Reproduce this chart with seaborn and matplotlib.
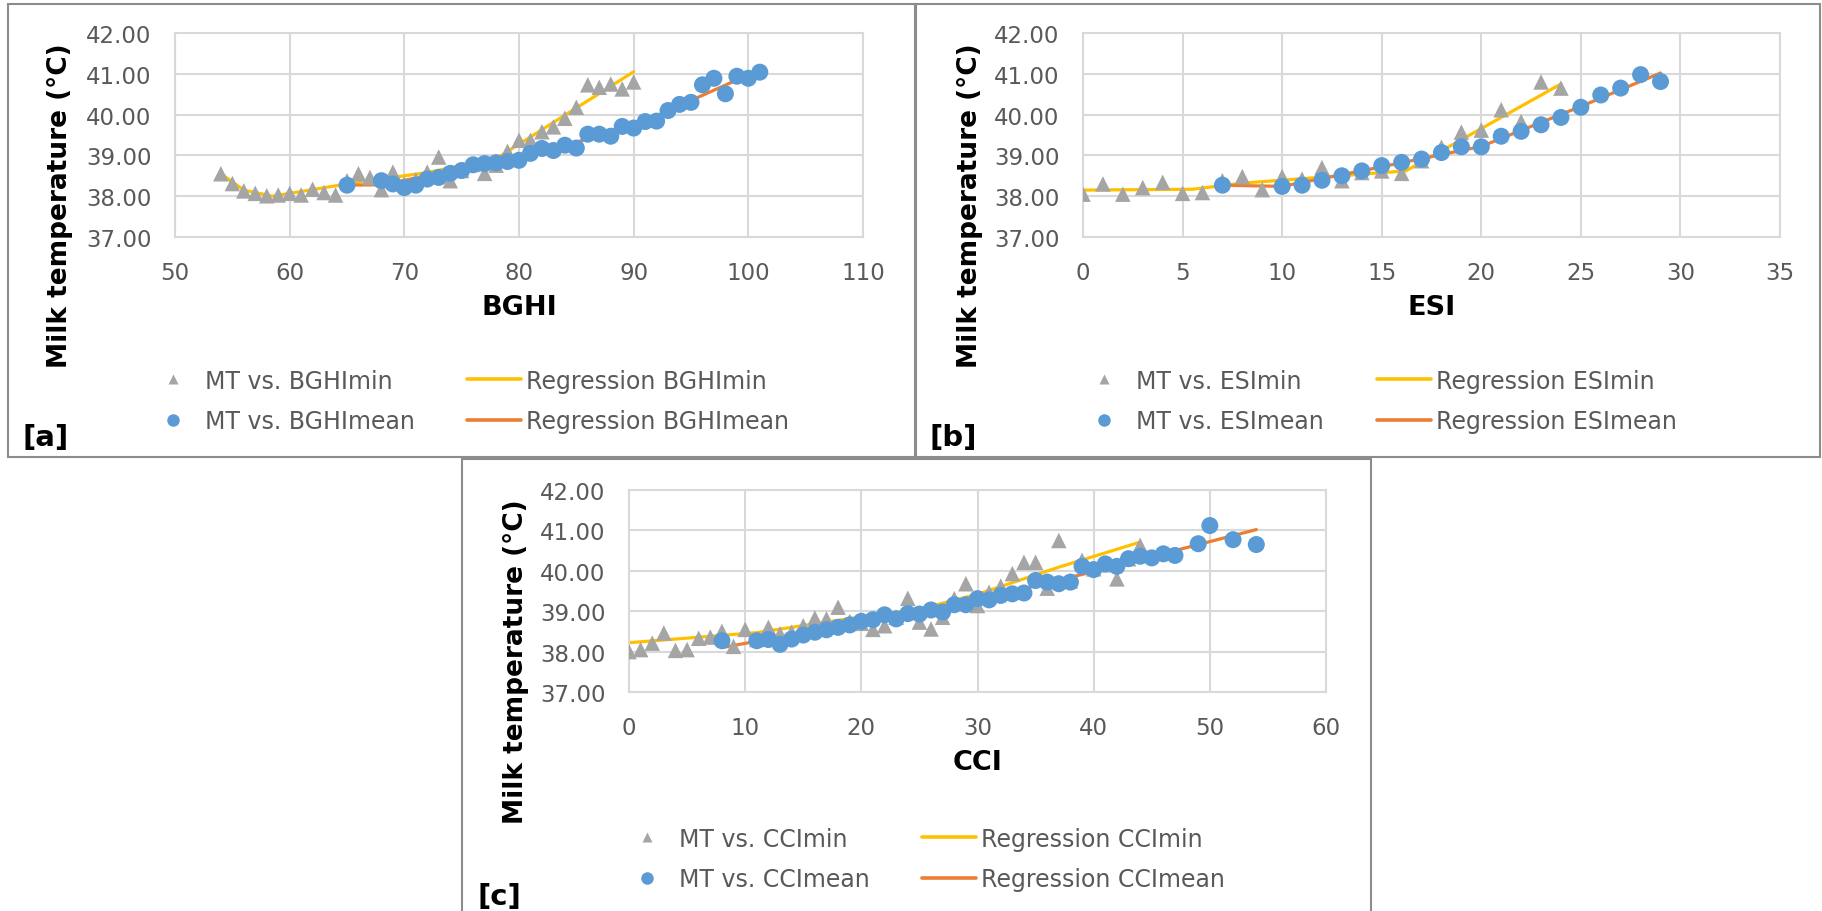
import matplotlib
matplotlib.use("Agg")
import matplotlib.pyplot as plt
from matplotlib.lines import Line2D
from matplotlib.patches import Rectangle
import seaborn as sns
import pandas as pd

# ---- data ----
# [a] BGHI
bghi_min_x = [54, 55, 56, 57, 58, 59, 60, 61, 62, 63, 64, 65, 66, 67, 68, 69, 70, 71, 72,
              73, 74, 75, 76, 77, 78, 79, 80, 81, 82, 83, 84, 85, 86, 87, 88, 89, 90]
bghi_min_y = [38.55, 38.31, 38.13, 38.07, 38.01, 38.03, 38.07, 38.03, 38.17, 38.09, 38.03,
              38.38, 38.55, 38.46, 38.16, 38.59, 38.30, 38.40, 38.59, 38.96, 38.38, 38.63,
              38.78, 38.56, 38.76, 39.10, 39.37, 39.37, 39.58, 39.70, 39.91, 40.18, 40.73,
              40.67, 40.75, 40.63, 40.80]
bghi_mean_x = [65, 68, 69, 70, 71, 72, 73, 74, 75, 76, 77, 78, 79, 80, 81, 82, 83, 84, 85,
               86, 87, 88, 89, 90, 91, 92, 93, 94, 95, 96, 97, 98, 99, 100, 101]
bghi_mean_y = [38.27, 38.38, 38.30, 38.21, 38.27, 38.42, 38.46, 38.56, 38.63, 38.77, 38.80,
               38.82, 38.85, 38.88, 39.05, 39.17, 39.12, 39.25, 39.18, 39.52, 39.52, 39.47,
               39.71, 39.67, 39.83, 39.84, 40.10, 40.25, 40.30, 40.73, 40.89, 40.51, 40.94,
               40.89, 41.04]
bghi_reg_min_x = [54, 56, 58.5, 65, 72, 78, 90]
bghi_reg_min_y = [38.55, 38.15, 38.00, 38.30, 38.58, 38.92, 41.05]
bghi_reg_mean_x = [65, 68, 76, 85, 92, 101]
bghi_reg_mean_y = [38.27, 38.28, 38.72, 39.32, 39.97, 41.10]

# [b] ESI
esi_min_x = [0, 1, 2, 3, 4, 5, 6, 7, 8, 9, 10, 11, 12, 13, 14, 15, 16, 17, 18, 19, 20,
             21, 22, 23, 24]
esi_min_y = [38.05, 38.30, 38.05, 38.21, 38.34, 38.07, 38.09, 38.38, 38.48, 38.16, 38.48,
             38.42, 38.70, 38.38, 38.58, 38.62, 38.56, 38.87, 39.20, 39.57, 39.62, 40.12,
             39.83, 40.80, 40.65]
esi_mean_x = [7, 10, 11, 12, 13, 14, 15, 16, 17, 18, 19, 20, 21, 22, 23, 24, 25, 26, 27,
              28, 29]
esi_mean_y = [38.27, 38.24, 38.27, 38.39, 38.50, 38.62, 38.75, 38.83, 38.91, 39.07, 39.21,
              39.21, 39.47, 39.59, 39.75, 39.93, 40.18, 40.48, 40.65, 40.98, 40.81]
esi_reg_min_x = [0, 5.5, 8, 16.2, 24]
esi_reg_min_y = [38.15, 38.17, 38.32, 38.62, 40.75]
esi_reg_mean_x = [7, 10, 15, 20, 25, 29]
esi_reg_mean_y = [38.27, 38.24, 38.72, 39.22, 40.20, 41.02]

# [c] CCI
cci_min_x = [0, 1, 2, 3, 4, 5, 6, 7, 8, 9, 10, 11, 12, 13, 14, 15, 16, 17, 18, 19, 20, 21,
             22, 23, 24, 25, 26, 27, 28, 29, 30, 31, 32, 33, 34, 35, 36, 37, 38, 39, 40, 41,
             42, 43, 44]
cci_min_y = [38.00, 38.05, 38.21, 38.46, 38.03, 38.05, 38.33, 38.36, 38.50, 38.13, 38.55,
             38.30, 38.60, 38.44, 38.48, 38.64, 38.83, 38.81, 39.10, 38.75, 38.70, 38.55,
             38.64, 38.85, 39.32, 38.73, 38.56, 38.85, 39.31, 39.68, 39.14, 39.47, 39.62,
             39.93, 40.21, 40.21, 39.57, 40.75, 39.75, 40.26, 40.05, 40.15, 39.80, 40.30,
             40.63]
cci_mean_x = [8, 11, 12, 13, 14, 15, 16, 17, 18, 19, 20, 21, 22, 23, 24, 25, 26, 27, 28, 29,
              30, 31, 32, 33, 34, 35, 36, 37, 38, 39, 40, 41, 42, 43, 44, 45, 46, 47, 49, 50,
              52, 54]
cci_mean_y = [38.27, 38.27, 38.30, 38.18, 38.31, 38.41, 38.48, 38.54, 38.60, 38.66, 38.75,
              38.79, 38.91, 38.81, 38.94, 38.93, 39.03, 38.98, 39.16, 39.16, 39.31, 39.28,
              39.39, 39.43, 39.45, 39.76, 39.72, 39.68, 39.72, 40.11, 40.03, 40.17, 40.11,
              40.30, 40.36, 40.32, 40.42, 40.38, 40.67, 41.12, 40.77, 40.65]
cci_reg_min_x = [0, 11, 20, 25, 30, 37, 44]
cci_reg_min_y = [38.22, 38.47, 38.86, 39.05, 39.42, 40.09, 40.71]
cci_reg_mean_x = [8, 20, 30, 40, 54]
cci_reg_mean_y = [38.10, 38.72, 39.28, 39.98, 41.02]

y_ticks = [37, 38, 39, 40, 41, 42]

GREY = "#A5A5A5"
BLUE = "#5B9BD5"
YELLOW = "#FFC000"
ORANGE = "#ED7D31"
TXT = "#595959"
GRID = "#D9D9D9"

sns.set_theme(style="white")
plt.rcParams["font.family"] = ["DejaVu Sans"]

W, H = 1822, 912
fig = plt.figure(figsize=(W / 100, H / 100), dpi=100)


def fx(p):
    return p / W


def fy(p):
    return 1 - p / H


# panel frames
for (l, t, r, b) in [(8, 5, 915, 458), (916, 5, 1820, 458), (462, 460, 1371, 915)]:
    fig.patches.append(Rectangle((fx(l), fy(b)), fx(r - l), (b - t) / H,
                                 transform=fig.transFigure, fill=False,
                                 edgecolor="#8C8C8C", lw=1.5))


def panel(box, name, xr, xticks, mn_x, mn_y, me_x, me_y, rmn_x, rmn_y, rme_x, rme_y,
          ylab_x, ylab_y, leg_x, leg_y, colsp, tag_xy, tag):
    l, t, r, b = box
    ax = fig.add_axes([fx(l), fy(b), fx(r - l), (b - t) / H])
    sns.lineplot(data=pd.DataFrame({"x": rmn_x, "y": rmn_y}), x="x", y="y", ax=ax,
                 color=YELLOW, lw=2.3, estimator=None, sort=False, zorder=2)
    sns.lineplot(data=pd.DataFrame({"x": rme_x, "y": rme_y}), x="x", y="y", ax=ax,
                 color=ORANGE, lw=2.3, estimator=None, sort=False, zorder=2)
    sns.scatterplot(data=pd.DataFrame({"x": mn_x, "y": mn_y}), x="x", y="y", ax=ax,
                    marker="^", s=125, color=GREY, edgecolor="none", linewidth=0, zorder=3)
    sns.scatterplot(data=pd.DataFrame({"x": me_x, "y": me_y}), x="x", y="y", ax=ax,
                    marker="o", s=150, color=BLUE, edgecolor="none", linewidth=0, zorder=4)
    ax.set_xlim(*xr)
    ax.set_ylim(37, 42)
    ax.set_xticks(xticks)
    ax.set_yticks(y_ticks)
    ax.set_yticklabels([f"{v:.2f}" for v in y_ticks])
    ax.grid(True, color=GRID, lw=1.5)
    ax.set_axisbelow(True)
    for s in ax.spines.values():
        s.set_color(GRID)
        s.set_linewidth(1.5)
    ax.tick_params(length=0, pad=17, labelsize=16.5, labelcolor=TXT)
    ax.set_xlabel("")
    ax.set_ylabel("")
    fig.text(fx((l + r) / 2), fy(b + 70), name, ha="center", va="center",
             fontsize=19.5, fontweight="bold", color="black")
    fig.text(fx(ylab_x), fy(ylab_y), "Milk temperature (°C)", rotation=90,
             ha="center", va="center", fontsize=19, fontweight="bold", color="black")
    handles = [
        Line2D([], [], ls="none", marker="^", ms=7.5, color=GREY, mec="none"),
        Line2D([], [], ls="none", marker="o", ms=9, color=BLUE, mec="none"),
        Line2D([], [], color=YELLOW, lw=2.6),
        Line2D([], [], color=ORANGE, lw=2.6),
    ]
    labels = [f"MT vs. {name}min", f"MT vs. {name}mean",
              f"Regression {name}min", f"Regression {name}mean"]
    leg = fig.legend(handles, labels, loc="center left",
                     bbox_to_anchor=(fx(leg_x), fy(leg_y)), bbox_transform=fig.transFigure,
                     ncol=2, frameon=False, borderpad=0, handlelength=2.3,
                     handletextpad=0.2, columnspacing=colsp, labelspacing=0.7,
                     prop={"size": 17})
    for txt in leg.get_texts():
        txt.set_color(TXT)
    fig.text(fx(tag_xy[0]), fy(tag_xy[1]), tag, ha="center", va="center",
             fontsize=21, fontweight="bold", color="black")
    return ax


panel((175, 34, 863, 238), "BGHI", (50, 110), [50, 60, 70, 80, 90, 100, 110],
      bghi_min_x, bghi_min_y, bghi_mean_x, bghi_mean_y,
      bghi_reg_min_x, bghi_reg_min_y, bghi_reg_mean_x, bghi_reg_mean_y,
      60, 206, 134, 402, 2.2, (46, 438), "[a]")
panel((1083, 34, 1780, 238), "ESI", (0, 35), [0, 5, 10, 15, 20, 25, 30, 35],
      esi_min_x, esi_min_y, esi_mean_x, esi_mean_y,
      esi_reg_min_x, esi_reg_min_y, esi_reg_mean_x, esi_reg_mean_y,
      970, 206, 1065, 402, 2.25, (953, 438), "[b]")
panel((629, 491, 1326, 693), "CCI", (0, 60), [0, 10, 20, 30, 40, 50, 60],
      cci_min_x, cci_min_y, cci_mean_x, cci_mean_y,
      cci_reg_min_x, cci_reg_min_y, cci_reg_mean_x, cci_reg_mean_y,
      516, 662, 608, 860, 2.2, (499, 897), "[c]")

fig.savefig("out.png", dpi=100)
